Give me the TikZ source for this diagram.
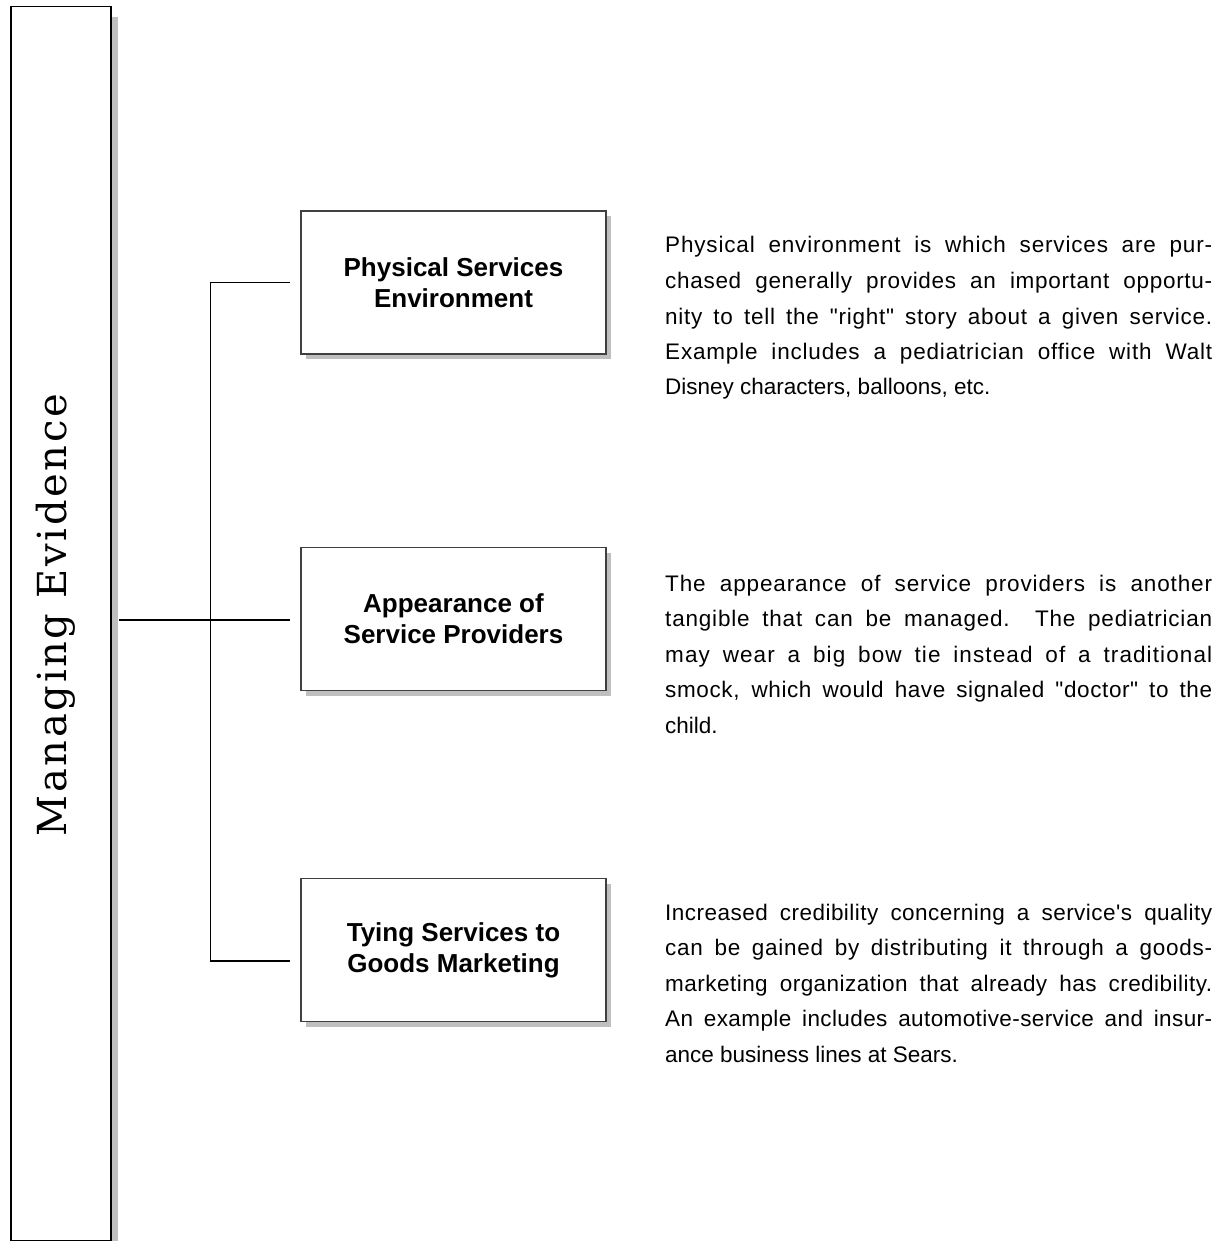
\documentclass[tikz,border=0pt]{standalone}
\usepackage{fontspec}
\setmainfont{Liberation Sans}[Ligatures=TeXOff]
\newfontfamily\titlefont{DejaVu Serif}[LetterSpace=6.6]
\usetikzlibrary{calc,shadows}
\newlength\wA
\newlength\wB
\newcommand\jline[1]{%
  \settowidth\wA{#1}%
  \settowidth\wB{\addfontfeatures{LetterSpace=10}#1}%
  \pgfmathsetmacro\lsp{max(0,round(100*(0.45*(547-\wA))/(\wB-\wA))/10)}%
  \makebox[547pt][s]{\addfontfeatures{LetterSpace=\lsp}#1}}
\tikzset{
  sidebar/.style={draw=black, line width=1.5pt, fill=white, minimum width=100pt,
    minimum height=1234pt, inner sep=0pt,
    drop shadow={shadow xshift=7pt, shadow yshift=-10pt, fill=black!25, opacity=1}},
  itembox/.style={draw=black!75, line width=1.2pt, fill=white, minimum width=305pt,
    minimum height=143pt, inner sep=0pt, align=center,
    font=\fontsize{26}{31}\selectfont\bfseries,
    drop shadow={shadow xshift=5pt, shadow yshift=-5pt, fill=black!25, opacity=1}},
  conn/.style={draw=black, line width=1.1pt},
  para/.style={inner sep=0pt, anchor=base west, font=\fontsize{22.5}{35.5}\selectfont},
}
\begin{document}
\begin{tikzpicture}[x=1pt,y=-1pt]
\useasboundingbox (0,0) rectangle (1220,1241);
\fill[white] (0,0) rectangle (1220,1241);

\node[sidebar, anchor=north west] (bar) at (10,6) {};
\node[rotate=90, anchor=base, inner sep=0pt, font=\titlefont\fontsize{40}{40}\selectfont] (title) at (66,615) {Managing Evidence};

\node[itembox] (b1) at (453.5,282.5) {Physical Services\\Environment};
\node[itembox] (b2) at (453.5,619) {Appearance of\\Service Providers};
\node[itembox] (b3) at (453.5,950) {Tying Services to\\Goods Marketing};

\coordinate (vx) at (210.5,0);
\coordinate (t1) at ([xshift=-10pt]b1.west);
\coordinate (t2) at ([xshift=-10pt,yshift=-1pt]b2.west);
\coordinate (t3) at ([xshift=-10pt,yshift=-11pt]b3.west);
\draw[conn] (t1) -- (t1 -| vx) -- (t3 -| vx) -- (t3);
\draw[conn] ([xshift=7pt]bar.east |- t2) -- (t2);

\node[para] (d1) at (665,253) {\parbox[t]{547pt}{\fontsize{22.5}{35.5}\selectfont
\jline{Physical environment is which services are pur-}\\
\jline{chased generally provides an important opportu-}\\
\jline{nity to tell the "right" story about a given service.}\\
\jline{Example includes a pediatrician office with Walt}\\
Disney characters, balloons, etc.}};

\node[para] (d2) at (665,591) {\parbox[t]{547pt}{\fontsize{22.5}{35.5}\selectfont
\jline{The appearance of service providers is another}\\
\jline{tangible that can be managed.\ \ The pediatrician}\\
\jline{may wear a big bow tie instead of a traditional}\\
\jline{smock, which would have signaled "doctor" to the}\\
child.}};

\node[para] (d3) at (665,920) {\parbox[t]{547pt}{\fontsize{22.5}{35.5}\selectfont
\jline{Increased credibility concerning a service's quality}\\
\jline{can be gained by distributing it through a goods-}\\
\jline{marketing organization that already has credibility.}\\
\jline{An example includes automotive-service and insur-}\\
ance business lines at Sears.}};
\end{tikzpicture}
\end{document}
